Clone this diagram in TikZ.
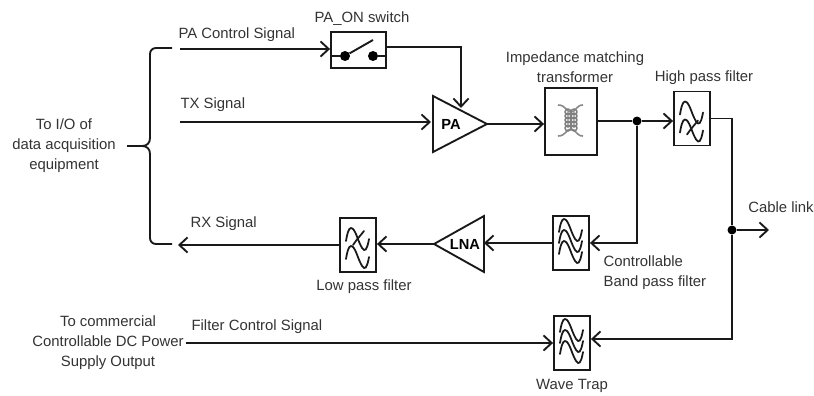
\documentclass[tikz,border=0pt]{standalone}
\usepackage{fontspec}
\setmainfont{Liberation Sans}
\usepackage{xcolor}
\usetikzlibrary{arrows.meta}
\usetikzlibrary{shapes.geometric}
\definecolor{inkgray}{HTML}{333333}
\tikzset{
  wire/.style={line width=1.6pt,black!90},
  sig/.style={wire,-{Straight Barb[length=7pt,width=13pt,line width=1.6pt]}},
  lbl/.style={text=inkgray,font=\fontsize{12.7}{17}\selectfont,align=center,inner sep=2pt},
  box/.style={draw,line width=1.6pt,black!90,fill=white,inner sep=0pt},
  filterbox/.style={box,minimum width=1.08cm,minimum height=1.62cm},
  amp/.style={draw,line width=1.6pt,black!90,isosceles triangle,isosceles triangle stretches,
    inner sep=0pt,outer sep=0pt},
  dot/.style={circle,fill=black,inner sep=0pt,minimum size=0.27cm},
  sinewave/.pic={\draw[line width=1.5pt,black!90,line cap=round] plot[smooth,tension=0.7] coordinates
    {(-12,3) (-10,-6) (-7,-10) (-3,-6) (2,6) (6,12) (9,9) (11,1)};},
  crossstroke/.pic={\draw[line width=1.5pt,black!90,line cap=round] (-6,7) .. controls (-2,1) and (2,-3) .. (5,-7);},
  hipair/.pic={\pic at (0,-7) {sinewave}; \pic at (0,11) {sinewave}; \pic at (1,9) {crossstroke};},
  lopair/.pic={\pic at (0,-7) {sinewave}; \pic at (0,11) {sinewave}; \pic at (1,-7) {crossstroke};},
  wavetriple/.pic={\pic at (0,-14) {sinewave}; \pic at (0,-3) {sinewave}; \pic at (0,8) {sinewave};}
}
\begin{document}
\begin{tikzpicture}[x=0.03cm,y=-0.03cm]
\useasboundingbox (0,0) rectangle (814,396);
% blocks
\node[box,minimum width=1.65cm,minimum height=1.08cm] (switch) at (358.5,50) {};
\node[amp,minimum width=1.68cm,minimum height=1.62cm,anchor=lower side] (pa) at (433,124) {};
\node[box,minimum width=1.56cm,minimum height=2.01cm] (xfmr) at (571,121.5) {};
\node[filterbox] (hpf) at (692,118.5) {};
\node[filterbox] (bpf) at (571,243) {};
\node[amp,minimum width=1.68cm,minimum height=1.5cm,shape border rotate=180,anchor=lower side] (lna) at (484,244) {};
\node[filterbox] (lpf) at (358,245) {};
\node[filterbox] (trap) at (572,343) {};
\node[font=\fontsize{12.5}{15}\selectfont\bfseries] (patext) at (451,124) {PA};
\node[font=\fontsize{12.5}{15}\selectfont\bfseries] (lnatext) at (465,244) {LNA};
% switch symbol
\node[dot,minimum size=0.3cm] (contactl) at (345,56) {};
\node[dot,minimum size=0.3cm] (contactr) at (373,56) {};
\coordinate (lever) at (373,40);
\draw[wire] (switch.west |- contactl) -- (contactl) -- (lever);
\draw[wire] (contactr) -- (switch.east |- contactr);
% filters
\pic at (hpf) {hipair};
\pic at (lpf) {lopair};
\pic at (bpf) {wavetriple};
\pic at (trap) {wavetriple};
% transformer
\draw[line width=1.4pt,black!45] (558,105) .. controls (566,105) and (566,112) .. (571,112) .. controls (576,112) and (576,105) .. (583,105);
\draw[line width=1.4pt,black!45] (558,136) .. controls (566,136) and (566,129) .. (571,129) .. controls (576,129) and (576,136) .. (583,136);
\foreach \cy in {112,116,120,124,128} {
  \draw[line width=1.2pt,black!50] (568,\cy) circle (0.09cm);
  \draw[line width=1.2pt,black!50] (574,\cy) circle (0.09cm);
}
% free ends and junctions
\coordinate (pain) at (180,49);
\coordinate (txin) at (180,122);
\coordinate (rxout) at (178,245);
\coordinate (cable) at (769,230);
\node[dot] (txnode) at (637,121) {};
\node[dot] (cablenode) at (732,230) {};
% labels
\node[lbl,anchor=west] (palabel) at (176,35) {PA Control Signal};
\node[lbl,anchor=west] (txlabel) at (178,105) {TX Signal};
\node[lbl,anchor=west] (rxlabel) at (188,224) {RX Signal};
\node[lbl,anchor=west] (filterlabel) at (189,327) {Filter Control Signal};
\node[lbl] (swlabel) at (362,19) {PA\_ON switch};
\node[lbl] (xfmrlabel) at (575,67) {Impedance matching\\transformer};
\node[lbl] (hpflabel) at (704,78) {High pass filter};
\node[lbl] (cablelabel) at (781,207) {Cable link};
\node[lbl,align=left,anchor=west] (bpflabel) at (601,272.5) {Controllable\\Band pass filter};
\node[lbl] (lpflabel) at (364,287) {Low pass filter};
\node[lbl] (traplabel) at (572,386) {Wave Trap};
\node[lbl] (iolabel) at (64,146) {To I/O of\\data acquisition\\equipment};
\node[lbl] (powerlabel) at (108,343) {To commercial\\Controllable DC Power\\Supply Output};
% bracket
\coordinate (brtop) at (172,48);
\coordinate (brbot) at (172,244);
\coordinate (brtip) at (127,146);
\draw[wire,rounded corners=5pt] (brtop) -- (150,48) -- (150,120);
\draw[wire,rounded corners=5pt] (brbot) -- (150,244) -- (150,170);
\draw[wire] (150,120) -- (150,138) .. controls (150,143) and (147,146) .. (142,146) -- (brtip);
\draw[wire] (150,170) -- (150,154) .. controls (150,149) and (147,146) .. (142,146);
% connectors
\draw[sig] (pain) -- (switch.west |- pain);
\draw[sig] (switch.east |- 0,47) -| (461,108);
\draw[sig] (txin) -- (431,122);
\draw[sig] (pa.apex) -- (xfmr.west |- pa.apex);
\draw[wire] (xfmr.east |- txnode) -- (txnode);
\draw[sig] (txnode) -- (hpf.west |- txnode);
\draw[sig] (txnode) |- (bpf.east);
\draw[sig] (bpf.west) -- (lna.lower side |- bpf.west);
\draw[sig] (lna.apex) -- (lpf.east |- lna.apex);
\draw[sig] (lpf.west) -- (rxout);
\draw[wire] (hpf.east) -| (cablenode);
\draw[sig] (cablenode) -- (cable);
\draw[sig] (cablenode) |- (trap.east |- 0,339);
\draw[sig] (powerlabel.east |- trap.west) -- (trap.west);
\end{tikzpicture}
\end{document}
